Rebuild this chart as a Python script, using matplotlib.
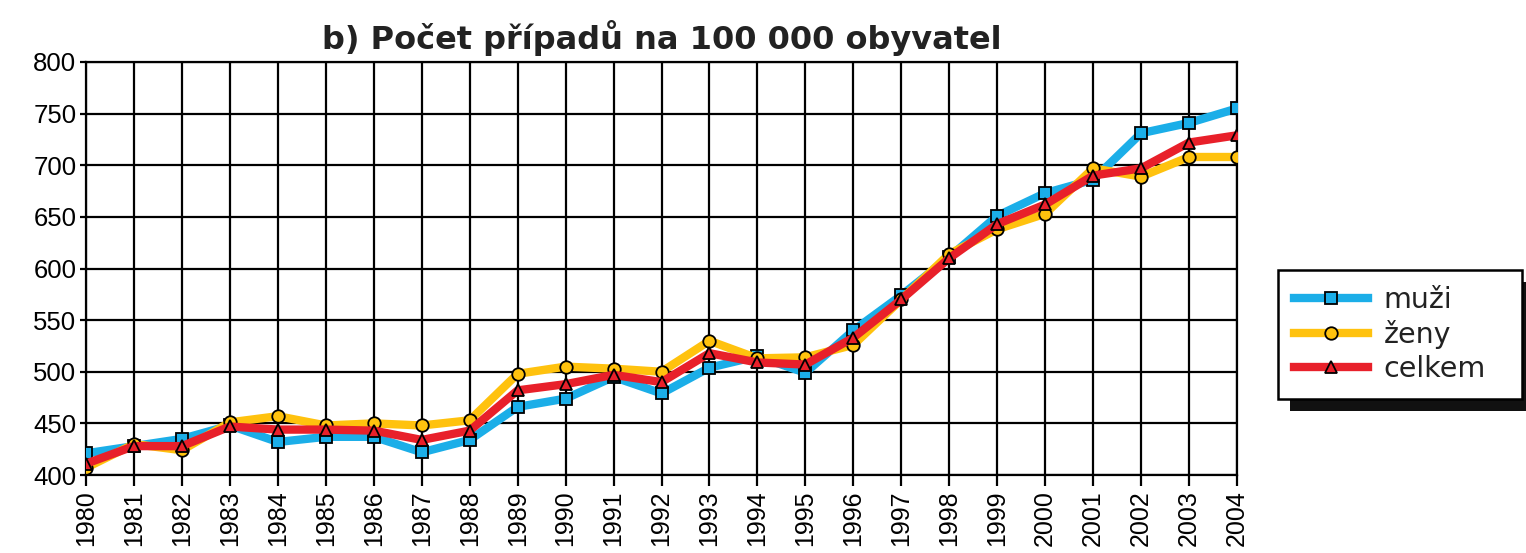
import matplotlib
matplotlib.use("Agg")
from matplotlib import pyplot as plt
from matplotlib.patches import Rectangle

plt.rcParams['font.family'] = ['Liberation Sans', 'DejaVu Sans']

# data
years = list(range(1980, 2005))
muzi = [421, 428, 435, 448, 432, 437, 437, 422, 434, 466, 474, 495, 479,
        504, 515, 499, 540, 574, 611, 651, 673, 686, 731, 741, 755]
zeny = [407, 430, 424, 451, 457, 448, 450, 448, 453, 498, 505, 503, 500,
        530, 513, 514, 526, 570, 614, 638, 653, 697, 689, 708, 708]
celkem = [411, 428, 428, 447, 444, 444, 443, 434, 443, 482, 488, 497, 490,
          518, 509, 507, 533, 570, 610, 643, 662, 690, 697, 722, 729]
y_ticks = [400, 450, 500, 550, 600, 650, 700, 750, 800]

fig = plt.figure(figsize=(15.26, 5.53), dpi=100)
ax = fig.add_axes([0.0564, 0.141, 0.7542, 0.7469])

ax.plot(years, muzi, color="#1BAEE8", lw=6, marker="s", ms=9,
        mfc="#1BAEE8", mec="black", mew=1.3, label="muži", zorder=3)
ax.plot(years, zeny, color="#FFC20E", lw=6, marker="o", ms=9,
        mfc="#FFC20E", mec="black", mew=1.3, label="ženy", zorder=4)
ax.plot(years, celkem, color="#E8202A", lw=6, marker="^", ms=9,
        mfc="#E8202A", mec="black", mew=1.3, label="celkem", zorder=5)

ax.set_xlim(1980, 2004)
ax.set_ylim(400, 800)
ax.set_xticks(years)
ax.set_xticklabels([str(y) for y in years], rotation=90, fontsize=18)
ax.set_yticks(y_ticks)
ax.set_yticklabels([str(v) for v in y_ticks], fontsize=18.5)
ax.grid(True, color="black", lw=1.6)
ax.set_axisbelow(True)
for s in ax.spines.values():
    s.set_linewidth(1.6)
ax.tick_params(axis="both", width=1.6, colors="black")
ax.tick_params(axis="x", length=8, pad=3)
ax.tick_params(axis="y", length=4, pad=3)

ax.set_title("b) Počet případů na 100 000 obyvatel", fontsize=23,
             fontweight="bold", family="DejaVu Sans", color="#222222", pad=9)

# legend box, outside the axes on the right
leg_w = 244 / 1526
leg_h = 127 / 553
leg = ax.legend(loc="upper left", mode="expand",
                bbox_to_anchor=(0.8375, 0.512 - leg_h, leg_w, leg_h),
                bbox_transform=fig.transFigure, frameon=True,
                prop={"family": "DejaVu Sans", "size": 20.5},
                fancybox=False, edgecolor="black", facecolor="white",
                framealpha=1, handlelength=2.6, borderpad=0.55,
                labelspacing=0.22, handletextpad=0.55, borderaxespad=0)
leg.get_frame().set_linewidth(1.8)
for t in leg.get_texts():
    t.set_color("#222222")

fig.canvas.draw()
bb = leg.get_window_extent().transformed(fig.transFigure.inverted())
dx = 12 / 1526
dy = 12 / 553
shadow = Rectangle((bb.x0 + dx, bb.y0 - dy), bb.width, bb.height,
                   transform=fig.transFigure, facecolor="#111111",
                   edgecolor="none", zorder=-1)
fig.patches.append(shadow)

fig.savefig("out.png", dpi=100)
